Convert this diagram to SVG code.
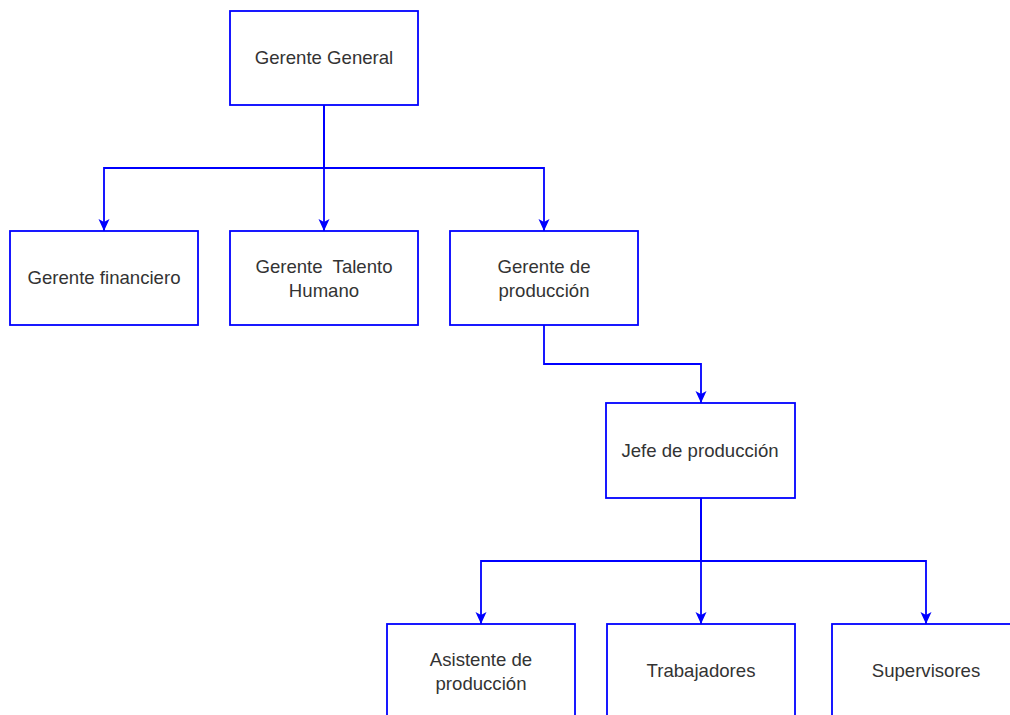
<svg xmlns="http://www.w3.org/2000/svg" width="1010" height="715" viewBox="0 0 1010 715">
  <style>
    .box { fill: #ffffff; stroke: #0000ff; stroke-width: 1.8; }
    .lbl { font-family: "Liberation Sans", Arial, sans-serif; font-size: 18.6px; fill: #333333; text-anchor: middle; dominant-baseline: central; }
    .edge { fill: none; stroke: #0000ff; stroke-width: 1.8; marker-end: url(#arrow); }
  </style>
  <defs>
    <marker id="arrow" viewBox="0 0 12 12" refX="12" refY="6" markerWidth="12" markerHeight="12" markerUnits="userSpaceOnUse" orient="auto">
      <path d="M0,0.5 L12,6 L0,11.5 L3,6 Z" fill="#0000ff"/>
    </marker>
  </defs>
  <rect width="1010" height="715" fill="#ffffff"/>

  <g id="connectors">
    <path class="edge" d="M324,105 V168 H104 V231"/>
    <path class="edge" d="M324,105 V231"/>
    <path class="edge" d="M324,105 V168 H544 V231"/>
    <path class="edge" d="M544,325 V364 H701 V403"/>
    <path class="edge" d="M701,498 V561 H481 V624"/>
    <path class="edge" d="M701,498 V624"/>
    <path class="edge" d="M701,498 V561 H926 V624"/>
  </g>

  <g id="gerente-general">
    <rect class="box" x="230" y="11" width="188" height="94"/>
    <text class="lbl" x="324" y="57">Gerente General</text>
  </g>
  <g id="gerente-financiero">
    <rect class="box" x="10" y="231" width="188" height="94"/>
    <text class="lbl" x="104" y="277">Gerente financiero</text>
  </g>
  <g id="gerente-talento-humano">
    <rect class="box" x="230" y="231" width="188" height="94"/>
    <text class="lbl" x="324" y="266" xml:space="preserve">Gerente  Talento</text>
    <text class="lbl" x="324" y="290">Humano</text>
  </g>
  <g id="gerente-produccion">
    <rect class="box" x="450" y="231" width="188" height="94"/>
    <text class="lbl" x="544" y="266">Gerente de</text>
    <text class="lbl" x="544" y="290">producción</text>
  </g>
  <g id="jefe-produccion">
    <rect class="box" x="606" y="403" width="189" height="95"/>
    <text class="lbl" x="700" y="450">Jefe de producción</text>
  </g>
  <g id="asistente-produccion">
    <rect class="box" x="387" y="624" width="188" height="100"/>
    <text class="lbl" x="481" y="659">Asistente de</text>
    <text class="lbl" x="481" y="683">producción</text>
  </g>
  <g id="trabajadores">
    <rect class="box" x="607" y="624" width="188" height="100"/>
    <text class="lbl" x="701" y="670">Trabajadores</text>
  </g>
  <g id="supervisores">
    <rect class="box" x="832" y="624" width="190" height="100"/>
    <text class="lbl" x="926" y="670">Supervisores</text>
  </g>
</svg>
